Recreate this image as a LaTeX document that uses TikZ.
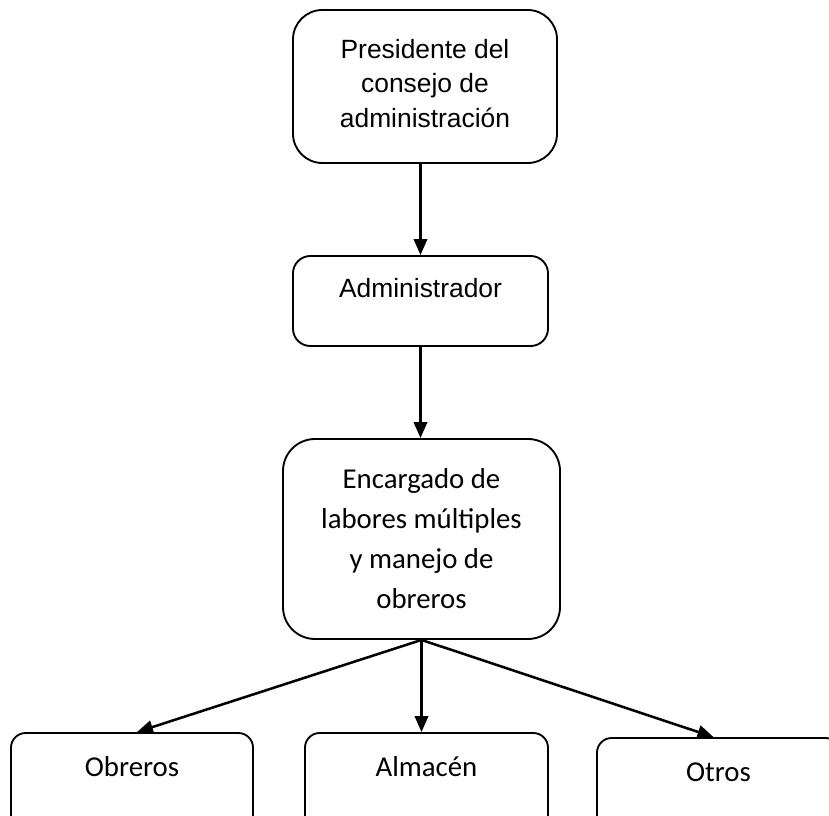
\documentclass[tikz,border=0pt]{standalone}
\usepackage{fontspec}
\setmainfont{Liberation Sans}
\newfontfamily\calib{Carlito}
\usetikzlibrary{arrows.meta,calc}

\tikzset{
  box/.style={draw=black, line width=1.4pt, fill=white, align=center, inner sep=2pt},
  arialtxt/.style={font=\fontsize{19.8pt}{26pt}\selectfont},
  calibtxt/.style={font=\calib\fontsize{21.6pt}{30pt}\selectfont},
  arr/.style={line width=1.9pt, -{Triangle[length=12pt,width=10pt]}}
}

\begin{document}
\begin{tikzpicture}[x=0.75pt, y=-0.75pt]
  \useasboundingbox (0,0) rectangle (829,816);
  \clip (0,0) rectangle (829,816);

  % top of the chart
  \node[box, arialtxt, rounded corners=22pt, minimum width=198pt, minimum height=114.75pt,
        text depth=5pt]
    (pres) at (425,86.5) {Presidente del\\consejo de\\administración};
  \node[box, arialtxt, rounded corners=13pt, minimum width=191.25pt, minimum height=67.5pt,
        text height=15pt, text depth=20.5pt]
    (admin) at (420.5,301) {Administrador};
  \node[box, calibtxt, rounded corners=24pt, minimum width=207.75pt, minimum height=150pt]
    (enc) at (421.5,539) {Encargado de\\labores múltiples\\y manejo de\\obreros};

  % bottom row, running past the lower edge
  \node[box, calibtxt, rounded corners=11pt, minimum width=181.5pt, minimum height=80.25pt,
        text height=16pt, text depth=31.2pt]
    (obr) at (132,786.5) {Obreros};
  \node[box, calibtxt, rounded corners=11pt, minimum width=182.25pt, minimum height=80.25pt,
        text height=16pt, text depth=31.2pt]
    (alm) at (426.5,786.5) {Almacén};
  \node[box, calibtxt, rounded corners=11pt, minimum width=182.25pt, minimum height=80.25pt,
        text height=16pt, text depth=31.2pt]
    (otr) at (718.5,791.5) {Otros};

  % connectors
  \draw[arr] (pres.south -| admin.north) -- (admin.north);
  \draw[arr] (admin.south) -- (admin.south |- enc.north);
  \draw[arr] (enc.south) -- ($(obr.north)+(5,0)$);
  \draw[arr] (enc.south) -- (enc.south |- alm.north);
  \draw[arr] (enc.south) -- ($(otr.north)+(-5,0)$);
\end{tikzpicture}
\end{document}
